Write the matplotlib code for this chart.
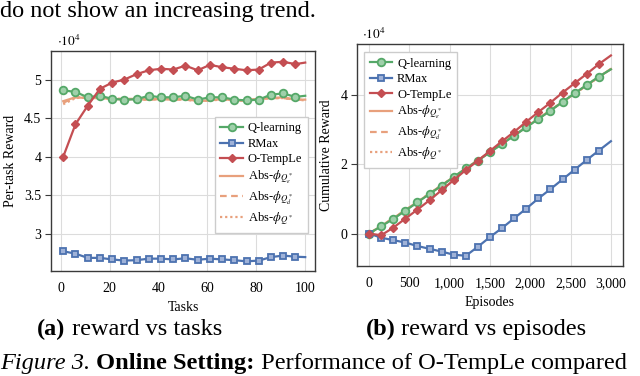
import matplotlib
matplotlib.use("Agg")
import matplotlib.pyplot as plt

plt.rcParams['font.family'] = ['Liberation Serif', 'DejaVu Serif']
plt.rcParams['mathtext.fontset'] = 'stix'

# ---- data: per-task reward (x1e4), markers every 5 tasks ----
tasks = [1, 6, 11, 16, 21, 26, 31, 36, 41, 46, 51, 56, 61, 66, 71, 76, 81, 86, 91, 96, 100]
q_task = [4.86, 4.84, 4.77, 4.79, 4.75, 4.74, 4.745, 4.79, 4.77, 4.77, 4.79, 4.74, 4.77,
          4.77, 4.74, 4.73, 4.74, 4.805, 4.82, 4.775, 4.79]
rmax_task = [2.775, 2.745, 2.69, 2.69, 2.67, 2.655, 2.66, 2.68, 2.68, 2.67, 2.685, 2.665,
             2.68, 2.67, 2.66, 2.645, 2.655, 2.70, 2.72, 2.705, 2.70]
otemp_task = [4.00, 4.42, 4.66, 4.88, 4.96, 5.00, 5.07, 5.12, 5.14, 5.13, 5.18, 5.12, 5.19,
              5.16, 5.14, 5.12, 5.13, 5.22, 5.23, 5.20, 5.22]
abs_e_task = [4.72, 4.77, 4.76, 4.76, 4.75, 4.74, 4.75, 4.74, 4.75, 4.74, 4.75, 4.72, 4.73,
              4.75, 4.73, 4.73, 4.75, 4.76, 4.77, 4.74, 4.74]
abs_d_task = [4.70, 4.77, 4.77, 4.76, 4.75, 4.75, 4.75, 4.74, 4.75, 4.74, 4.74, 4.72, 4.73,
              4.75, 4.73, 4.73, 4.75, 4.76, 4.76, 4.74, 4.74]
abs_task = [4.68, 4.76, 4.77, 4.76, 4.75, 4.75, 4.74, 4.74, 4.75, 4.74, 4.74, 4.72, 4.73,
            4.74, 4.73, 4.73, 4.75, 4.76, 4.76, 4.74, 4.73]

# ---- data: cumulative reward (x1e4), every 150 episodes ----
episodes = [0, 150, 300, 450, 600, 750, 900, 1050, 1200, 1350, 1500, 1650, 1800, 1950,
            2100, 2250, 2400, 2550, 2700, 2850, 3000]
q_cum = [0.0, 0.21, 0.42, 0.66, 0.90, 1.14, 1.38, 1.63, 1.875, 2.10, 2.34, 2.58, 2.82,
         3.06, 3.30, 3.54, 3.79, 4.04, 4.28, 4.52, 4.73]
rmax_cum = [0.0, -0.12, -0.19, -0.26, -0.36, -0.44, -0.52, -0.61, -0.64, -0.38, -0.10,
            0.16, 0.44, 0.72, 1.01, 1.28, 1.56, 1.84, 2.12, 2.39, 2.66]
otemp_cum = [0.0, -0.05, 0.17, 0.43, 0.69, 0.96, 1.25, 1.54, 1.83, 2.10, 2.38, 2.66, 2.93,
             3.22, 3.50, 3.77, 4.06, 4.33, 4.60, 4.88, 5.13]
abs_e_cum = [0.0, 0.22, 0.44, 0.67, 0.91, 1.15, 1.39, 1.63, 1.87, 2.11, 2.35, 2.59, 2.83,
             3.07, 3.31, 3.55, 3.79, 4.03, 4.27, 4.51, 4.74]
abs_d_cum = abs_e_cum
abs_cum = abs_e_cum

GREEN, BLUE, RED, ORANGE = '#55A868', '#4C72B0', '#C44E52', '#E8A07C'
LBL_E = r'Abs-$\phi_{Q^*_\epsilon}$'
LBL_D = r'Abs-$\phi_{Q^*_d}$'
LBL_S = r'Abs-$\phi_{Q^*}$'

W, H = 640, 376
fig = plt.figure(figsize=(6.4, 3.76), dpi=100)


def ax_at(l, t, r, b):
    return fig.add_axes([l / W, 1 - b / H, (r - l) / W, (b - t) / H])


def style(ax):
    ax.grid(True, color='#dcdcdc', lw=0.8)
    ax.set_axisbelow(True)
    for s in ax.spines.values():
        s.set_color('#3a3a3a')
        s.set_linewidth(1.0)
    ax.tick_params(axis='y', direction='out', length=4, labelsize=10, color='#3a3a3a', pad=3)
    ax.tick_params(axis='x', direction='out', length=0, labelsize=10, pad=8)


def draw(ax, x, q, r, o, ae, ad, a):
    # last sample is the end of the line, no marker drawn there
    mk = slice(0, len(x) - 1)
    ax.plot(x, q, color=GREEN, lw=1.6, marker='o', ms=5.5, mfc='#9fd0aa', mec=GREEN,
            mew=1.3, markevery=mk, label='Q-learning', zorder=4)
    ax.plot(x, r, color=BLUE, lw=1.6, marker='s', ms=5, mfc='#9fb2d8', mec=BLUE,
            mew=1.3, markevery=mk, label='RMax', zorder=4)
    ax.plot(x, o, color=RED, lw=1.6, marker='D', ms=4.5, mfc=RED, mec=RED,
            markevery=mk, label='O-TempLe', zorder=5)
    ax.plot(x, ae, color=ORANGE, lw=1.6, ls='-', label=LBL_E, zorder=3)
    ax.plot(x, ad, color=ORANGE, lw=1.6, ls=(0, (3, 2)), label=LBL_D, zorder=3)
    ax.plot(x, a, color=ORANGE, lw=1.6, ls=(0, (1, 1.3)), label=LBL_S, zorder=3)


LEG = dict(fontsize=9, frameon=True, fancybox=False, edgecolor='#cccccc', framealpha=1,
           handlelength=1.8, borderpad=0.45, labelspacing=0.28, handletextpad=0.4,
           borderaxespad=0)

# left panel
ax1 = ax_at(51, 51, 315, 271)
style(ax1)
draw(ax1, tasks, q_task, rmax_task, otemp_task, abs_e_task, abs_d_task, abs_task)
ax1.set_xlim(-4, 104)
ax1.set_ylim(2.52, 5.37)
ax1.set_xticks([0, 20, 40, 60, 80, 100])
ax1.set_yticks([3, 3.5, 4, 4.5, 5])
ax1.set_yticklabels(['3', '3.5', '4', '4.5', '5'])
ax1.set_xlabel('Tasks', fontsize=10, labelpad=4)
ax1.set_ylabel('Per-task Reward', fontsize=10, labelpad=5)
ax1.legend(loc='lower right', bbox_to_anchor=(0.973, 0.173), **LEG)
fig.text(57 / W, 1 - 41 / H, r'$\cdot 10^4$', fontsize=9.5, va='center')

# right panel
ax2 = ax_at(357, 44, 623, 266)
style(ax2)
draw(ax2, episodes, q_cum, rmax_cum, otemp_cum, abs_e_cum, abs_d_cum, abs_cum)
ax2.set_xlim(-150, 3150)
ax2.set_ylim(-0.935, 5.46)
ax2.set_xticks([0, 500, 1000, 1500, 2000, 2500, 3000])
ax2.set_xticklabels(['0', '500', '1,000', '1,500', '2,000', '2,500', '3,000'])
ax2.set_yticks([0, 2, 4])
ax2.set_xlabel('Episodes', fontsize=10, labelpad=4)
ax2.set_ylabel('Cumulative Reward', fontsize=10, labelpad=5)
ax2.legend(loc='upper left', bbox_to_anchor=(0.026, 0.964), **LEG)
fig.text(362 / W, 1 - 34 / H, r'$\cdot 10^4$', fontsize=9.5, va='center')

# surrounding page text
renderer = fig.canvas.get_renderer()


def runs(x, y, parts, size, center=False):
    texts = []
    for s, kw in parts:
        texts.append(fig.text(0, y / H, s, fontsize=size, va='baseline', **kw))
    widths = [t.get_window_extent(renderer).width for t in texts]
    start = x - sum(widths) / 2 if center else x
    for t, w in zip(texts, widths):
        t.set_x(start / W)
        start += w


runs(0, H - 17, [('do not show an increasing trend.', {})], 17.5)
runs(129.5, H - 335, [('(a)', {'fontweight': 'bold'}), (' reward vs tasks', {})], 17.5,
     center=True)
runs(476, H - 335, [('(b)', {'fontweight': 'bold'}), (' reward vs episodes', {})], 17.5,
     center=True)
runs(0, H - 369, [('Figure 3.', {'style': 'italic'}), (' ', {}),
                  ('Online Setting:', {'fontweight': 'bold'}),
                  (' Performance of O-TempLe compared', {})], 17.6)

fig.savefig('out.png', dpi=100)
